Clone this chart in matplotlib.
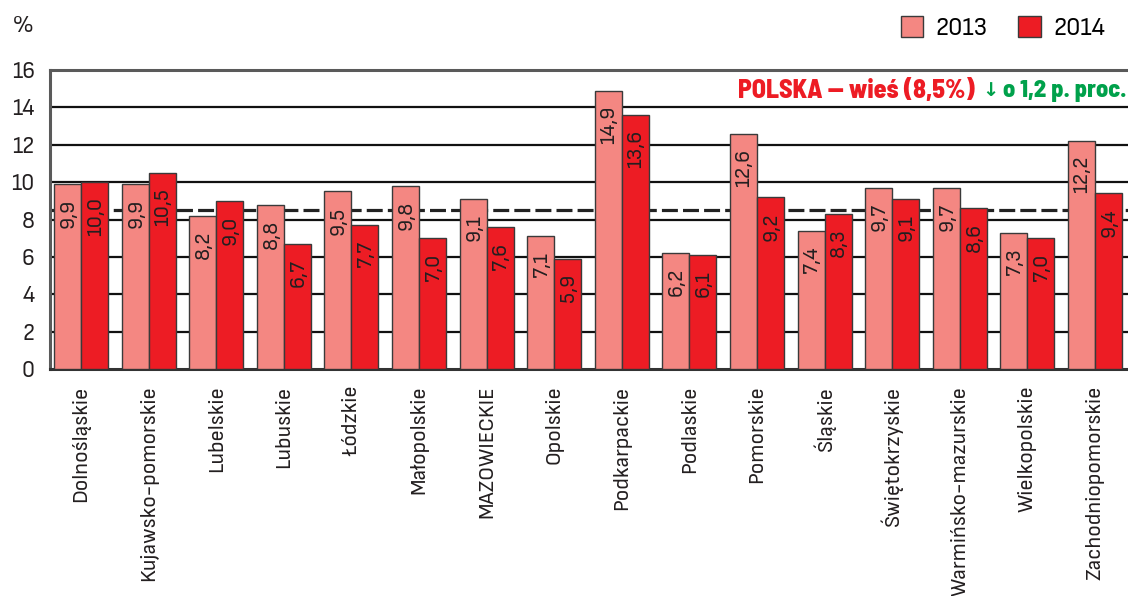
import matplotlib
matplotlib.use("Agg")
import matplotlib.pyplot as plt
import numpy as np

categories = ["Dolnośląskie", "Kujawsko-pomorskie", "Lubelskie", "Lubuskie", "Łódzkie",
              "Małopolskie", "MAZOWIECKIE", "Opolskie", "Podkarpackie", "Podlaskie",
              "Pomorskie", "Śląskie", "Świętokrzyskie", "Warmińsko-mazurskie",
              "Wielkopolskie", "Zachodniopomorskie"]
values_2013 = [9.9, 9.9, 8.2, 8.8, 9.5, 9.8, 9.1, 7.1, 14.9, 6.2, 12.6, 7.4, 9.7, 9.7, 7.3, 12.2]
values_2014 = [10.0, 10.5, 9.0, 6.7, 7.7, 7.0, 7.6, 5.9, 13.6, 6.1, 9.2, 8.3, 9.1, 8.6, 7.0, 9.4]
series_labels = ["2013", "2014"]
poland_value = 8.5
yticks = [0, 2, 4, 6, 8, 10, 12, 14, 16]

FAM = ["Sofia Sans Semi Condensed", "DejaVu Sans"]
BOLDFAM = ["Barlow Semi Condensed", "DejaVu Sans"]
plt.rcParams['font.family'] = FAM

c13 = "#F48782"
c14 = "#ED1C24"
edge = "#3a3a3a"
txtc = "#231f20"

fig = plt.figure(figsize=(11.28, 5.96), dpi=100)
ax = fig.add_axes([50/1128, 1-369/596, 1078/1128, (369-70)/596])

x = np.arange(len(categories))
w = 0.4
b1 = ax.bar(x - w/2, values_2013, width=w, color=c13, edgecolor=edge, linewidth=1.0, zorder=3, label=series_labels[0])
b2 = ax.bar(x + w/2, values_2014, width=w, color=c14, edgecolor=edge, linewidth=1.0, zorder=3, label=series_labels[1])

for bars, vals in ((b1, values_2013), (b2, values_2014)):
    for r, v in zip(bars, vals):
        ax.text(r.get_x() + r.get_width()/2 + 0.01, v - 0.8, f"{v:.1f}".replace(".", ","),
                rotation=90, ha="center", va="top", fontsize=16, color=txtc, zorder=4)

for t in yticks[1:-1]:
    ax.axhline(t, color="#111111", linewidth=1.6, zorder=1)
ax.axhline(poland_value, color="#222222", linewidth=2.3, linestyle=(0, (5, 1.6)), zorder=2)

ax.set_xlim(-0.46, 15.49)
ax.set_ylim(0, 16)
ax.set_yticks(yticks)
ax.set_yticklabels([str(t) for t in yticks], fontsize=17, color=txtc)
ax.set_xticks(x)
ax.set_xticklabels(categories, rotation=90, fontsize=16.3, color=txtc, va="top")
ax.tick_params(axis="y", length=0, pad=11)
ax.tick_params(axis="x", length=0, pad=12)
for s in ("left", "top"):
    ax.spines[s].set_color("#5a5a5a")
    ax.spines[s].set_linewidth(2.2)
ax.spines["bottom"].set_color("#333333")
ax.spines["bottom"].set_linewidth(2.2)
ax.spines["right"].set_visible(False)

ax.text(975/1128, 1-91/596, "POLSKA — wieś (8,5%)", transform=fig.transFigure, family=BOLDFAM,
        ha="right", va="center", fontsize=18.5, fontweight=800, color="#ED1C24")
ax.text(990/1128, 1-91/596, "↓", transform=fig.transFigure, family=["DejaVu Sans"],
        ha="center", va="center", fontsize=14, fontweight="bold", color="#00A14B")
ax.text(1003/1128, 1-91/596, "o 1,2 p. proc.", transform=fig.transFigure, family=BOLDFAM,
        ha="left", va="center", fontsize=17.5, fontweight=800, color="#00A14B")

fig.text(12/1128, 1-26/596, "%", fontsize=17, color=txtc, va="center", ha="left", style="italic")

leg = fig.legend(handles=[b1, b2], labels=series_labels, loc="center right",
                 bbox_to_anchor=(1105/1128, 1-28/596), ncol=2, frameon=False,
                 prop={"size": 18.7}, handlelength=0.88, handleheight=0.92,
                 columnspacing=1.2, handletextpad=0.45, borderpad=0, borderaxespad=0)

fig.savefig("out.png", dpi=100)
